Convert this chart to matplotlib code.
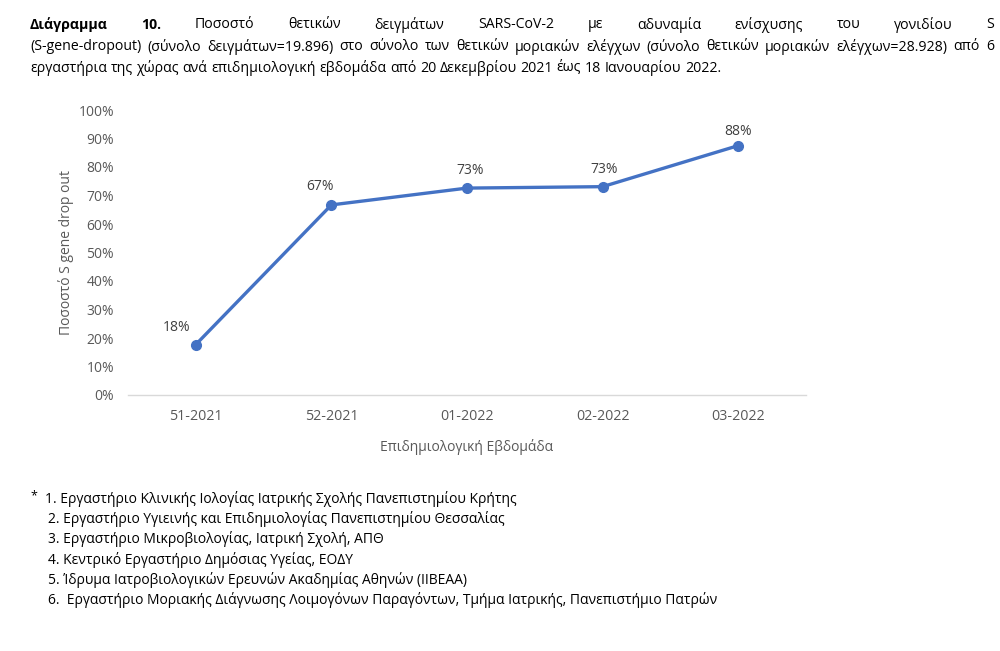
import matplotlib
matplotlib.use("Agg")
import matplotlib.pyplot as plt
from matplotlib.ticker import PercentFormatter

plt.rcParams['font.family'] = ['Open Sans', 'DejaVu Sans']

weeks = ["51-2021", "52-2021", "01-2022", "02-2022", "03-2022"]
dropout = [0.177, 0.667, 0.726, 0.731, 0.875]
yticks = [0.0, 0.1, 0.2, 0.3, 0.4, 0.5, 0.6, 0.7, 0.8, 0.9, 1.0]

title_bold = "Διάγραμμα 10."
title_lines = [
    "Ποσοστό θετικών δειγμάτων SARS-CoV-2 με αδυναμία ενίσχυσης του γονιδίου S",
    "(S-gene-dropout) (σύνολο δειγμάτων=19.896) στο σύνολο των θετικών μοριακών ελέγχων (σύνολο θετικών μοριακών ελέγχων=28.928) από 6",
    "εργαστήρια της χώρας ανά επιδημιολογική εβδομάδα από 20 Δεκεμβρίου 2021 έως 18 Ιανουαρίου 2022.",
]
footnotes = [
    "1. Εργαστήριο Κλινικής Ιολογίας Ιατρικής Σχολής Πανεπιστημίου Κρήτης",
    "2. Εργαστήριο Υγιεινής και Επιδημιολογίας Πανεπιστημίου Θεσσαλίας",
    "3. Εργαστήριο Μικροβιολογίας, Ιατρική Σχολή, ΑΠΘ",
    "4. Κεντρικό Εργαστήριο Δημόσιας Υγείας, ΕΟΔΥ",
    "5. Ίδρυμα Ιατροβιολογικών Ερευνών Ακαδημίας Αθηνών (ΙΙΒΕΑΑ)",
    "6.  Εργαστήριο Μοριακής Διάγνωσης Λοιμογόνων Παραγόντων, Τμήμα Ιατρικής, Πανεπιστήμιο Πατρών",
]
xlabel = "Επιδημιολογική Εβδομάδα"
ylabel = "Ποσοστό S gene drop out"

W, H = 1000, 651
fig = plt.figure(figsize=(W / 100, H / 100), dpi=100)
fig.patch.set_facecolor("white")

ax = fig.add_axes([128 / W, (H - 395) / H, 678 / W, 285 / H])
x = list(range(len(weeks)))
ax.plot(x, dropout, color="#4472C4", lw=2.4, marker="o", ms=7, zorder=3)
ax.set_xlim(-0.5, len(weeks) - 0.5)
ax.set_ylim(0, 1)
ax.set_yticks(yticks)
ax.yaxis.set_major_formatter(PercentFormatter(1.0, decimals=0))
ax.set_xticks(x)
ax.set_xticklabels(weeks)
for s in ["top", "right", "left"]:
    ax.spines[s].set_visible(False)
ax.spines["bottom"].set_color("#d9d9d9")
ax.spines["bottom"].set_linewidth(1.0)
ax.tick_params(axis="both", length=0, colors="#595959")
ax.tick_params(axis="y", pad=10, labelsize=10)
ax.tick_params(axis="x", pad=10, labelsize=10.3)
ax.set_xlabel(xlabel, color="#595959", fontsize=10, labelpad=11)
ax.set_ylabel(ylabel, color="#595959", fontsize=10, labelpad=3)

label_offsets = [(-14, 7), (-8, 7.5), (2, 7), (1, 7), (0, 4.5)]
for xi, v, (dx, dy) in zip(x, dropout, label_offsets):
    ax.annotate(f"{round(v * 100):.0f}%", (xi, v), xytext=(dx, dy),
                textcoords="offset points", ha="center", va="bottom",
                color="#404040", fontsize=10)

# Title paragraph (justified)
fig.canvas.draw()
r = fig.canvas.get_renderer()
fs_t = 10.2
x0, x1 = 30, 994

def place_justified(words, y_px, weights, justify=True):
    arts = []
    for w, wt in zip(words, weights):
        t = fig.text(0, 1 - y_px / H, w, fontsize=fs_t, fontweight=wt,
                     color="#000000", va="center", ha="left")
        arts.append(t)
    widths = [a.get_window_extent(r).width for a in arts]
    ta = fig.text(0, 0, "a a", fontsize=fs_t)
    tb = fig.text(0, 0, "aa", fontsize=fs_t)
    sp_nat = ta.get_window_extent(r).width - tb.get_window_extent(r).width
    ta.remove()
    tb.remove()
    n = len(words)
    if justify and n > 1:
        gap = (x1 - x0 - sum(widths)) / (n - 1)
    else:
        gap = sp_nat
    cx = x0
    for a, wd in zip(arts, widths):
        a.set_x(cx / W)
        cx += wd + gap

line1 = title_bold.split() + title_lines[0].split()
wts1 = ["bold"] * len(title_bold.split()) + ["normal"] * len(title_lines[0].split())
place_justified(line1, 25, wts1)
w2 = title_lines[1].split()
place_justified(w2, 47, ["normal"] * len(w2))
w3 = title_lines[2].split()
place_justified(w3, 68, ["normal"] * len(w3), justify=False)

# Footnotes
fig.text(30 / W, 1 - 496 / H, "*", fontsize=9, color="#000000", va="center", ha="left")
for i, line in enumerate(footnotes):
    xs = 45 if i == 0 else 48
    fig.text(xs / W, 1 - (499 + i * 20.2) / H, line, fontsize=10.0,
             color="#000000", va="center", ha="left")

fig.savefig("out.png", dpi=100, facecolor="white")
